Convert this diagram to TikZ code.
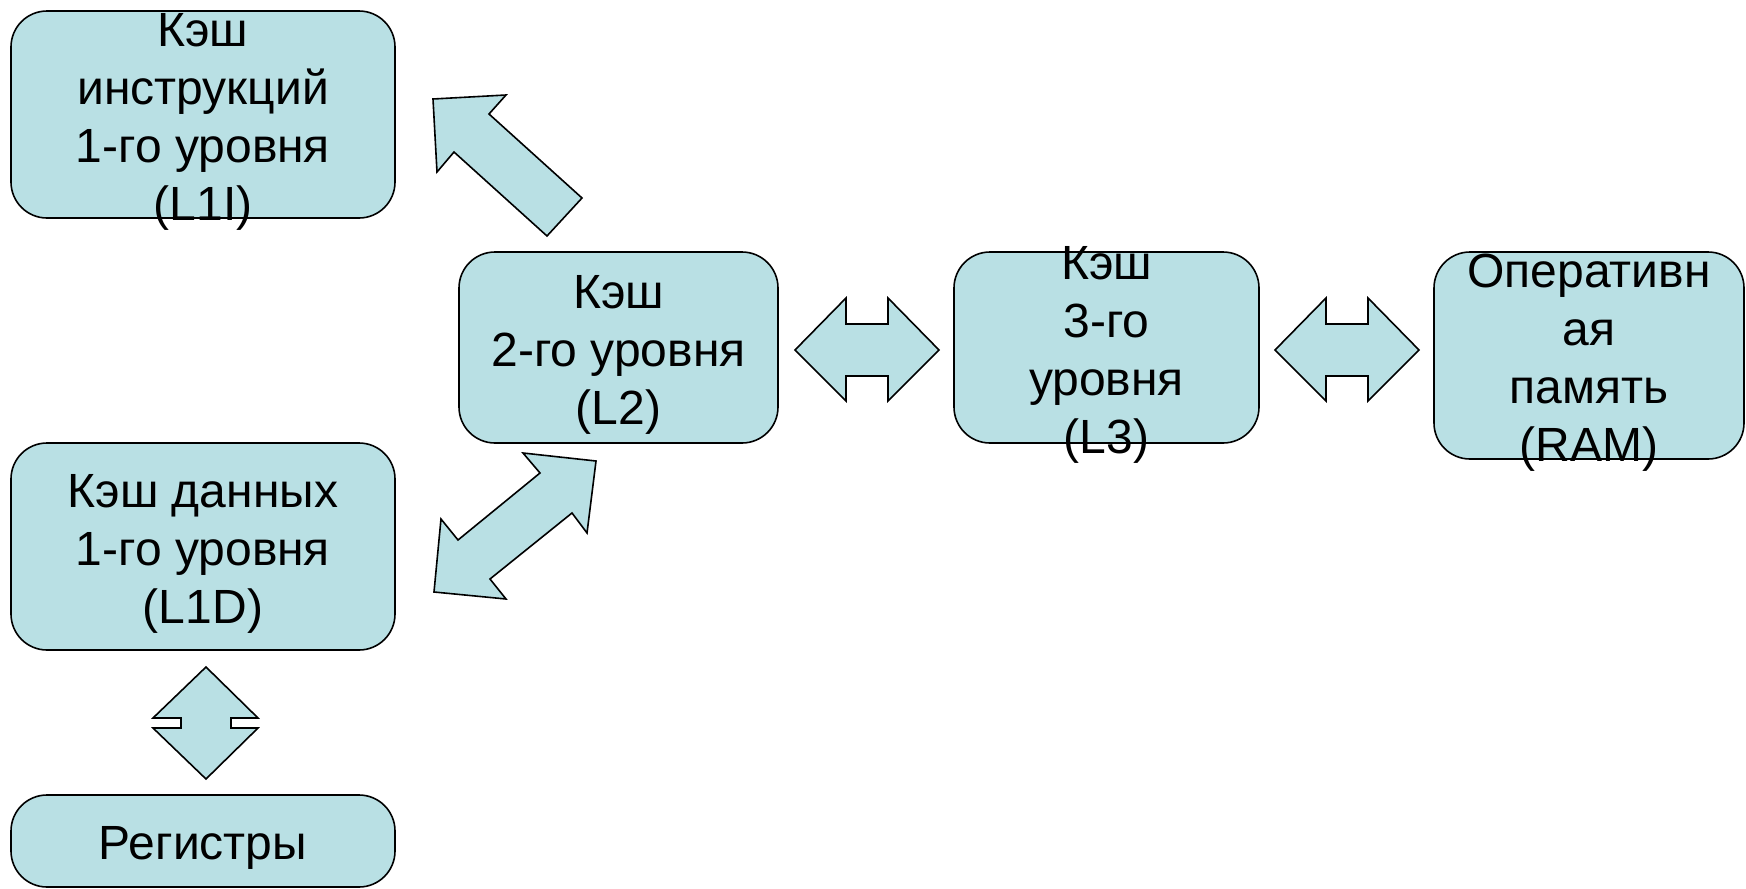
\documentclass[tikz,border=0pt]{standalone}
\usepackage{fontspec}
\setmainfont{Liberation Sans}
\definecolor{boxfill}{RGB}{185,224,228}
\begin{document}
\begin{tikzpicture}[x=1pt,y=-1pt,
  cbox/.style={draw=black, line width=1.6pt, fill=boxfill, rounded corners=36pt, inner sep=0pt},
  ctext/.style={align=center, font=\fontsize{48}{58}\selectfont, inner sep=0pt, yshift=-7pt},
  barrow/.style={draw=black, line width=1.6pt, fill=boxfill, line join=miter}]
\useasboundingbox (0,0) rectangle (1746,889);

% boxes
\node[cbox, minimum width=384pt, minimum height=207pt] (l1i) at (203,114.5) {};
\node[ctext] (l1it) at (l1i.center) {Кэш\\инструкций\\1-го уровня\\(L1I)};

\node[cbox, minimum width=319pt, minimum height=191pt] (l2) at (618.5,347.5) {};
\node[ctext] (l2t) at (l2.center) {Кэш\\2-го уровня\\(L2)};

\node[cbox, minimum width=305pt, minimum height=191pt] (l3) at (1106.5,347.5) {};
\node[ctext] (l3t) at (l3.center) {Кэш\\3-го\\уровня\\(L3)};

\node[cbox, minimum width=310pt, minimum height=207pt] (ram) at (1589,355.5) {};
\node[ctext] (ramt) at (ram.center) {Оперативн\\ая\\память\\(RAM)};

\node[cbox, minimum width=384pt, minimum height=207pt] (l1d) at (203,546.5) {};
\node[ctext] (l1dt) at (l1d.center) {Кэш данных\\1-го уровня\\(L1D)};

\node[cbox, minimum width=384pt, minimum height=92pt] (reg) at (203,841) {};
\node[ctext] (regt) at (reg.center) {Регистры};

% block arrows
\draw[barrow] (433,99) -- (506,95) -- (489,114) -- (582,198) -- (547,236) -- (454,152) -- (437,172) -- cycle;
\draw[barrow] (596,461) -- (587,533) -- (572,513) -- (490,579) -- (506,599) -- (434,592) -- (441,519) -- (458,540) -- (540,473) -- (523,453) -- cycle;
\draw[barrow] (795,350) -- (846,298) -- (846,324) -- (888,324) -- (888,298) -- (939,350) -- (888,401) -- (888,376) -- (846,376) -- (846,401) -- cycle;
\draw[barrow] (1275,350) -- (1326,298) -- (1326,324) -- (1368,324) -- (1368,298) -- (1419,350) -- (1368,401) -- (1368,376) -- (1326,376) -- (1326,401) -- cycle;
\draw[barrow] (206,667) -- (258,718) -- (231,718) -- (231,728) -- (258,728) -- (206,779) -- (153,728) -- (181,728) -- (181,718) -- (153,718) -- cycle;
\end{tikzpicture}
\end{document}
